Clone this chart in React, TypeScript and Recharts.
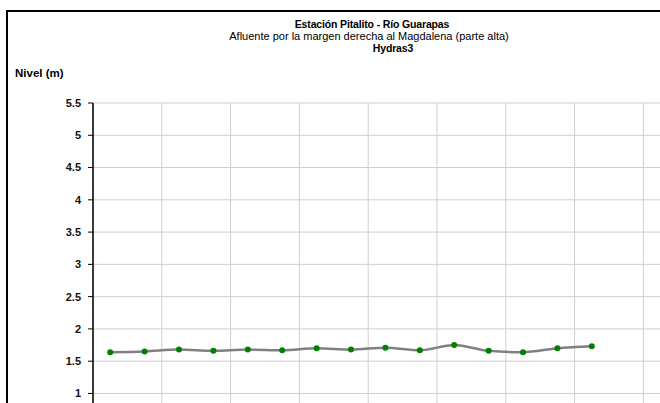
import React from "react";
import { LineChart, Line, XAxis, YAxis, CartesianGrid } from "recharts";

const titleLines = [
  "Estación Pitalito  - Río Guarapas",
  "Afluente por la margen derecha al Magdalena (parte alta)",
  "Hydras3",
];
const yAxisLabel = "Nivel (m)";
const levels = [1.64, 1.65, 1.68, 1.66, 1.68, 1.67, 1.7, 1.68, 1.71, 1.67, 1.75, 1.66, 1.64, 1.7, 1.73];
const yTicks = [1, 1.5, 2, 2.5, 3, 3.5, 4, 4.5, 5, 5.5];
const categoryCount = 20;
const xGridTicks = [0, 2, 4, 6, 8, 10, 12, 14, 16, 18, 20];

const data = levels.map((v, i) => ({ x: i + 0.5, nivel: v }));

const font = "'Liberation Sans', Arial, sans-serif";

export default function App() {
  return (
    <div style={{ position: "absolute", left: 0, top: 0, width: 660, height: 403, overflow: "hidden", background: "#fff", fontFamily: font }}>
      <div style={{ position: "absolute", left: 6, top: 10, width: 800, height: 600, border: "2.4px solid #000", boxSizing: "border-box" }} />
      <div style={{ position: "absolute", left: 0, top: 0 }}>
        <LineChart width={790} height={480} data={data} margin={{ top: 103, right: 9, bottom: 22, left: 0 }}>
          <CartesianGrid stroke="#cfcfcf" strokeWidth={1} />
          <XAxis type="number" dataKey="x" domain={[0, categoryCount]} ticks={xGridTicks} hide />
          <YAxis
            type="number"
            domain={[0, 5.5]}
            ticks={yTicks}
            width={93}
            interval={0}
            axisLine={{ stroke: "#000", strokeWidth: 1.5 }}
            tickLine={{ stroke: "#000" }}
            tickSize={5}
            tickMargin={7}
            tick={{ fontSize: 11, fontWeight: "bold", fill: "#111", fontFamily: font }}
          />
          <Line
            type="monotone"
            dataKey="nivel"
            stroke="#808080"
            strokeWidth={2.5}
            dot={{ r: 3, fill: "#008000", stroke: "none" }}
            isAnimationActive={false}
          />
        </LineChart>
      </div>
      <svg width={660} height={403} style={{ position: "absolute", left: 0, top: 0, pointerEvents: "none", whiteSpace: "pre" }}>
        <text x={372} y={28} textAnchor="middle" fontSize={10.5} letterSpacing={-0.15} fontWeight="bold" fill="#000" fontFamily={font}>{titleLines[0]}</text>
        <text x={369} y={40} textAnchor="middle" fontSize={11} fill="#000" fontFamily={font}>{titleLines[1]}</text>
        <text x={393} y={52} textAnchor="middle" fontSize={10.5} letterSpacing={-0.15} fontWeight="bold" fill="#000" fontFamily={font}>{titleLines[2]}</text>
        <text x={15} y={77} fontSize={11.5} fontWeight="bold" fill="#000" fontFamily={font}>{yAxisLabel}</text>
      </svg>
    </div>
  );
}
